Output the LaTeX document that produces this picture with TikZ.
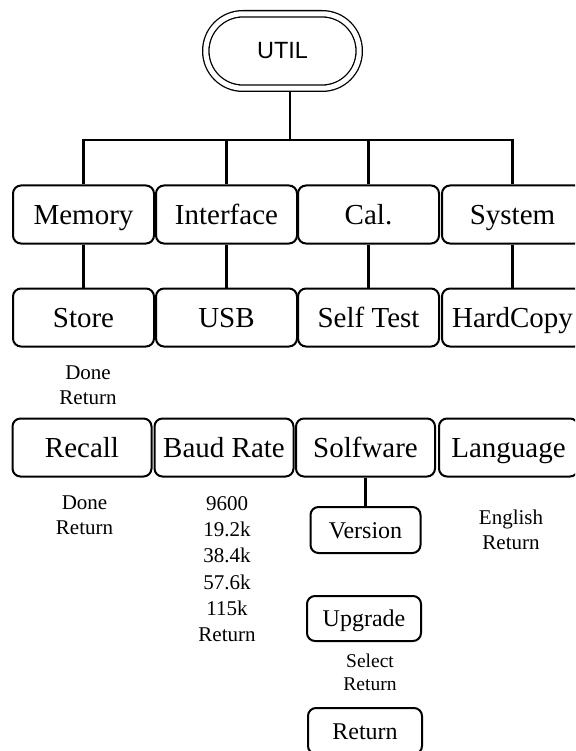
\documentclass[tikz,border=0pt]{standalone}
\usepackage{fontspec}
\setmainfont{Liberation Serif}
\newfontfamily\utilfont{Liberation Sans}

\begin{document}
\begin{tikzpicture}[x=1pt, y=-1pt,
	key/.style={draw, line width=2pt, rounded corners=8pt, minimum width=141pt, minimum height=58pt, inner sep=0pt, text height=22pt, text depth=3pt, font=\fontsize{29}{34}\selectfont},
	subkey/.style={draw, line width=2pt, rounded corners=8pt, minimum height=46pt, inner sep=0pt, text height=19pt, text depth=3pt, font=\fontsize{24}{28}\selectfont},
	note/.style={align=center, inner sep=0pt, font=\fontsize{21}{25.5}\selectfont},
	link/.style={line width=2.5pt}]
		\clip (0,0) rectangle (575,751);
		\node[draw, double, double distance=5pt, line width=1.3pt, rounded corners=37pt, minimum width=153.4pt, minimum height=74.4pt, outer sep=3.8pt, font=\utilfont\fontsize{23.5}{28}\selectfont] (util) at (282.5,51) {UTIL};
		% first level
		\node[key] (memory) at (83.5,214.5) {Memory};
		\node[key] (interface) at (226.5,214.5) {Interface};
		\node[key] (cal) at (368.5,214.5) {Cal.};
		\node[key] (system) at (512.5,214.5) {System};
		% second level
		\node[key] (store) at (83.5,317.5) {Store};
		\node[key] (usb) at (226.5,317.5) {USB};
		\node[key] (selftest) at (368.5,317.5) {Self Test};
		\node[key] (hardcopy) at (512.5,317.5) {HardCopy};
		\node[note] (storeopt) at (88,385) {Done\\Return};
		% third level
		\node[key, minimum width=139pt] (recall) at (82,447.5) {Recall};
		\node[key, minimum width=139pt] (baud) at (224,447.5) {Baud Rate};
		\node[key, minimum width=139pt] (solfware) at (365.5,447.5) {Solfware};
		\node[key, minimum width=139pt] (language) at (508.5,447.5) {Language};
		\node[note] (recallopt) at (84.5,515) {Done\\Return};
		\node[note, font=\fontsize{21}{26.3}\selectfont] (baudopt) at (227,569) {9600\\19.2k\\38.4k\\57.6k\\115k\\Return};
		\node[note] (langopt) at (511,530) {English\\Return};
		% software keys
		\node[subkey, minimum width=110pt] (version) at (365.5,530) {Version};
		\node[subkey, minimum width=114pt, minimum height=45pt] (upgrade) at (364,618.5) {Upgrade};
		\node[note, font=\fontsize{19.5}{23.5}\selectfont] (upgradeopt) at (370,672.5) {Select\\Return};
		\node[subkey, minimum width=114pt] (ret) at (365,731) {Return};
		% connectors
		\coordinate (bar) at (290,140);
		\draw[link] (util.south -| bar) -- (bar);
		\draw[link] (memory.north) |- (bar) -| (system.north);
		\draw[link] (interface.north) -- (interface.north |- bar);
		\draw[link] (cal.north) -- (cal.north |- bar);
		\draw[link] (memory) -- (store);
		\draw[link] (interface) -- (usb);
		\draw[link] (cal) -- (selftest);
		\draw[link] (system) -- (hardcopy);
		\draw[link] (solfware) -- (version);
\end{tikzpicture}
\end{document}
